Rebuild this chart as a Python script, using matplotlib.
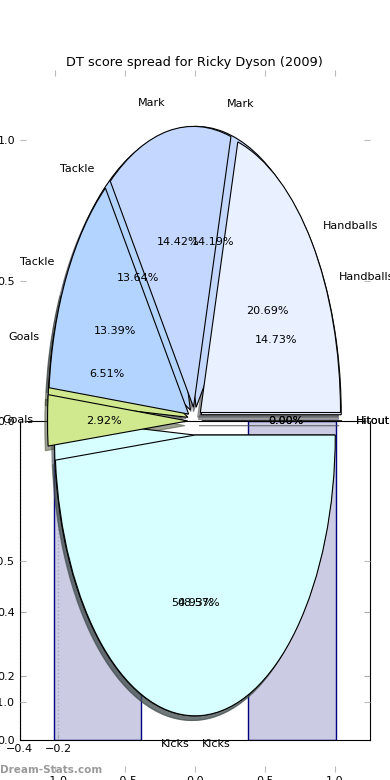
import matplotlib
matplotlib.use('Agg')
import matplotlib.pyplot as plt

# wedge order as drawn (counter-clockwise from 3 o'clock)
labels = ['Handballs', 'Mark', 'Tackle', 'Goals', 'Kicks', 'Hitout']
share_top = [20.69, 14.42, 13.39, 2.92, 48.57, 0.0]   # pie drawn last
share_under = [14.73, 14.19, 13.64, 6.51, 50.93, 0.0]  # pie drawn first
wedge_colors = ['#e9f0ff', '#c4d8ff', '#b3d4ff', '#d0e98f', '#d8ffff', '#ffffff']

# leftover bar axes underneath the pie
bar_pos = [0, 1]
bar_vals = [1.0, 1.0]
bar_xticks = [-0.4, -0.2]
bar_yticks = [0.0, 0.2, 0.4]
pie_ticks = [-1.0, -0.5, 0.0, 0.5, 1.0]

W, H = 390.0, 780.0
fig = plt.figure(figsize=(3.9, 7.8), dpi=100)

## bar axes (sits below the pie axes)
ax2 = fig.add_axes([19.5 / W, 40 / H, 350.5 / W, 319 / H])
ax2.bar(bar_pos, bar_vals, width=0.45, color='#cbcbe3', edgecolor='#000080', linewidth=1)
ax2.set_xlim(-0.4, 1.4)
ax2.set_ylim(0, 1)
ax2.set_xticks(bar_xticks)
ax2.set_yticks(bar_yticks)
ax2.xaxis.grid(True, linestyle=':', color='#a8a8c8', linewidth=1)
ax2.set_axisbelow('line')
ax2.tick_params(direction='in', top=True, right=True, length=4, color='#aaaaaa',
                labelsize=8, pad=3)

## pie axes, frameless, transparent
ax = fig.add_axes([19.5 / W, 8 / H, 350.5 / W, 702 / H])
for share in (share_under, share_top):
    ax.pie(share, explode=[0.05] * len(share), labels=labels, colors=wedge_colors,
           autopct='%1.2f%%', shadow={'ox': -0.014, 'oy': -0.012},
           textprops={'fontsize': 8},
           wedgeprops={'edgecolor': 'black', 'linewidth': 0.8})
ax.set_aspect('auto')
ax.set_xlim(-1.25, 1.25)
ax.set_ylim(-1.25, 1.25)
ax.set_xticks(pie_ticks)
ax.set_yticks(pie_ticks)
ax.set_frame_on(False)
ax.tick_params(direction='in', top=True, right=True, length=4, color='#bbbbbb',
               labelsize=8, pad=3)
ax.set_title('DT score spread for Ricky Dyson (2009)', fontsize=9.3, pad=3)

fig.text(0.0, 10 / H, 'Dream-Stats.com', color='#9a9a9a', fontsize=7.5,
         fontweight='bold', va='center', ha='left')

plt.savefig('out.png', dpi=100)
